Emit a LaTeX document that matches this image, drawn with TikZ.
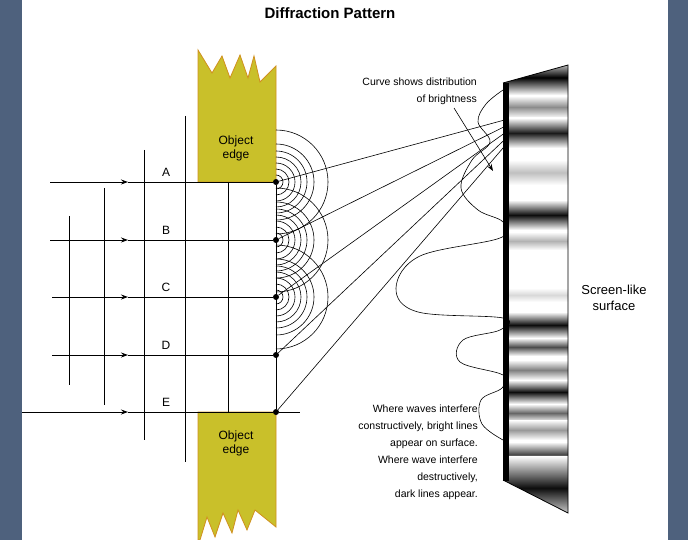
\documentclass[tikz,border=0pt]{standalone}
\usepackage{fontspec}
\setmainfont{Liberation Sans}
\usetikzlibrary{arrows.meta}
\definecolor{bgblue}{HTML}{4E617D}
\definecolor{objfill}{HTML}{C9C02A}
\definecolor{objline}{HTML}{D0901E}
\begin{document}
\begin{tikzpicture}[x=1pt,y=-1pt,
  wire/.style={line width=0.9pt,black},
  ray/.style={line width=0.6pt,black},
  arc/.style={line width=0.6pt,black},
  obj/.style={fill=objfill,draw=objline,line width=0.8pt},
  lbl/.style={font=\fontsize{12}{14}\selectfont,inner sep=0pt},
  small/.style={font=\fontsize{10.5}{17}\selectfont,inner sep=0pt,align=right},
  dot/.style={circle,fill=black,inner sep=0pt,minimum size=6pt},
  tip/.style={-{Stealth[length=7pt,width=5pt]}}
]
\useasboundingbox (0,0) rectangle (688,540);
\fill[bgblue] (0,0) rectangle (688,540);
\fill[white] (22,0) rectangle (668,540);

\node[font=\bfseries\fontsize{15}{17}\selectfont,inner sep=0pt] (title) at (330,13) {Diffraction Pattern};

\draw[obj] (198,182) -- (198,50) -- (212,73) -- (222,56) -- (230,78) -- (240,55) -- (248,78) -- (254,56) -- (260,82) -- (276,66) -- (276,182) -- cycle;
\draw[obj] (198,412) -- (198,540) -- (200,540) -- (207,517) -- (215,537) -- (223,513) -- (232,533) -- (238,510) -- (247,530) -- (255,510) -- (276,527) -- (276,412) -- cycle;
\node[lbl,align=center] (o1) at (236,148) {Object\\edge};
\node[lbl,align=center] (o2) at (236,443) {Object\\edge};

\foreach \n/\y in {A/182,B/240,C/297,D/355,E/412}{
  \node[dot] (d\n) at (276,\y) {};
}
\coordinate (v1t) at (69,216); \coordinate (v1b) at (69,385);
\coordinate (v2t) at (104,188); \coordinate (v2b) at (104,405);
\coordinate (v3t) at (144,150); \coordinate (v3b) at (144,440);
\coordinate (v4t) at (185,116); \coordinate (v4b) at (185,462);
\coordinate (v5t) at (228,182); \coordinate (v5b) at (228,412);
\foreach \i in {1,...,5}{\draw[wire] (v\i t) -- (v\i b);}
\draw[wire] (dA) -- (dE);

\foreach \n/\y/\x in {A/182/50,B/240/50,C/297/52,D/355/52,E/412/22}{
  \coordinate (s\n) at (\x,\y);
  \coordinate (m\n) at (128,\y);
  \draw[wire,tip] (s\n) -- (m\n);
  \draw[wire] (m\n) -- (d\n);
  \node[lbl] (l\n) at (166,\y-10) {\n};
}
\coordinate (eEnd) at (300,412);
\draw[wire] (dE) -- (eEnd);

\foreach \n in {A,B,C}{
  \foreach \r in {7,13,19,25,31,38,52}{
    \draw[arc] ([yshift=\r pt]d\n.center) arc[start angle=-90,end angle=90,radius=\r];
  }
}

\coordinate (focus) at (534,112);
\foreach \n in {A,B,C,D}{\draw[ray] (d\n) -- (focus);}
\draw[ray,tip] (dE) -- (focus);

\begin{scope}
\clip (503,83) -- (568,65) -- (568,513) -- (503,480) -- cycle;
\fill[white] (500,60) rectangle (570,520);
\foreach \a/\b/\c in {60/95/black,96/118/black!45,118/148/black!90,160/185/black!25,200/230/black!95,232/250/black!30,288/302/black!15,312/338/black!95,338/356/black!70,360/380/black!50,380/404/black!95,404/422/black!60,420/440/black!40,442/466/black!70,456/520/black!95}{
  \shade[top color=white,bottom color=white,middle color=\c] (500,\a) rectangle (570,\b);
}
\end{scope}
\draw[line width=0.8pt] (503,83) -- (568,65) -- (568,513) -- (503,480);
\draw[line width=6pt] (506,83) -- (506,481);

\draw[line width=0.6pt] plot[smooth,tension=0.6] coordinates {(503,90) (486,104) (478,122) (490,142) (472,160) (461,188) (478,210) (503,222) (500,238) (420,256) (396,288) (418,312) (503,318) (500,330) (463,340) (460,362) (503,375) (502,388) (481,400) (482,424) (503,440)};

\node[small,anchor=east] (t1) at (477,82) {Curve shows distribution};
\node[small,anchor=east] (t2) at (477,100) {of brightness};
\coordinate (ps) at (454,108);
\coordinate (pt) at (493,171);
\draw[ray,tip] (ps) -- (pt);
\node[lbl,align=center,font=\fontsize{13}{16}\selectfont] (scr) at (614,298) {Screen-like\\surface};
\node[small,anchor=north east] (t3) at (478,405) {Where waves interfere\\constructively, bright lines\\appear on surface.\\Where wave interfere\\destructively,\\dark lines appear.};
\end{tikzpicture}
\end{document}
